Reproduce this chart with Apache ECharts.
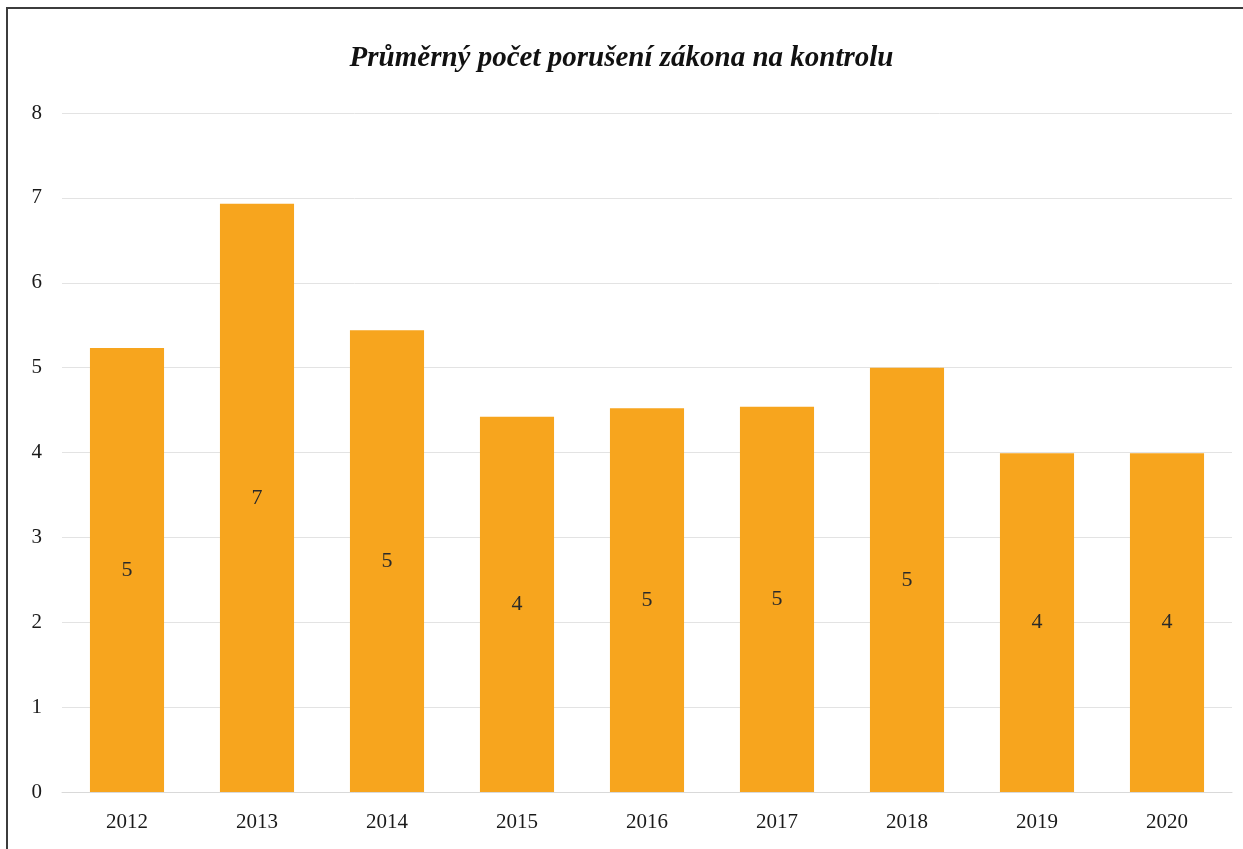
<!DOCTYPE html>
<html>
<head>
<meta charset="utf-8">
<script src="https://cdn.jsdelivr.net/npm/echarts@6/dist/echarts.min.js"></script>
<style>
    html, body { margin: 0; padding: 0; background: #fff; overflow: hidden; }
    .frame {
        position: absolute;
        left: 6px;
        top: 7px;
        width: 1260px;
        height: 900px;
        border: 2px solid #3c3c3c;
        box-sizing: border-box;
    }
    #chart { position: absolute; left: 0; top: 0; width: 1243px; height: 849px; }
</style>
</head>
<body>
<div class="frame"></div>
<div id="chart"></div>
<script>
    const years = ['2012', '2013', '2014', '2015', '2016', '2017', '2018', '2019', '2020'];
    const averages = [5.23, 6.93, 5.44, 4.42, 4.52, 4.54, 5.0, 3.99, 3.99];
    const yTicks = [0, 1, 2, 3, 4, 5, 6, 7, 8];

    const chart = echarts.init(document.getElementById('chart'));
    const serif = '"Liberation Serif", "DejaVu Serif", serif';

    chart.setOption({
        animation: false,
        title: {
            text: 'Průměrný počet porušení zákona na kontrolu',
            left: 'center',
            top: 39,
            textStyle: {
                fontFamily: serif,
                fontStyle: 'italic',
                fontWeight: 'bold',
                fontSize: 29,
                color: '#111'
            }
        },
        grid: {
            left: 62,
            right: 11,
            top: 113,
            bottom: 57
        },
        xAxis: {
            type: 'category',
            data: years,
            axisLine: { show: true, lineStyle: { color: '#d9d9d9', width: 1 } },
            axisTick: { show: false },
            axisLabel: {
                fontFamily: serif,
                fontSize: 21,
                color: '#1a1a1a',
                margin: 20
            }
        },
        yAxis: {
            type: 'value',
            min: yTicks[0],
            max: yTicks[yTicks.length - 1],
            interval: 1,
            axisLine: { show: false },
            axisTick: { show: false },
            splitLine: { lineStyle: { color: '#e3e3e3', width: 1 } },
            axisLabel: {
                fontFamily: serif,
                fontSize: 21,
                color: '#1a1a1a',
                margin: 20
            }
        },
        series: [{
            type: 'bar',
            data: averages,
            barCategoryGap: '43%',
            itemStyle: { color: '#F7A51E' },
            label: {
                show: true,
                position: 'inside',
                fontFamily: serif,
                fontSize: 22,
                color: '#2a2a2a',
                formatter: p => Math.round(p.value)
            }
        }]
    });
</script>
</body>
</html>
